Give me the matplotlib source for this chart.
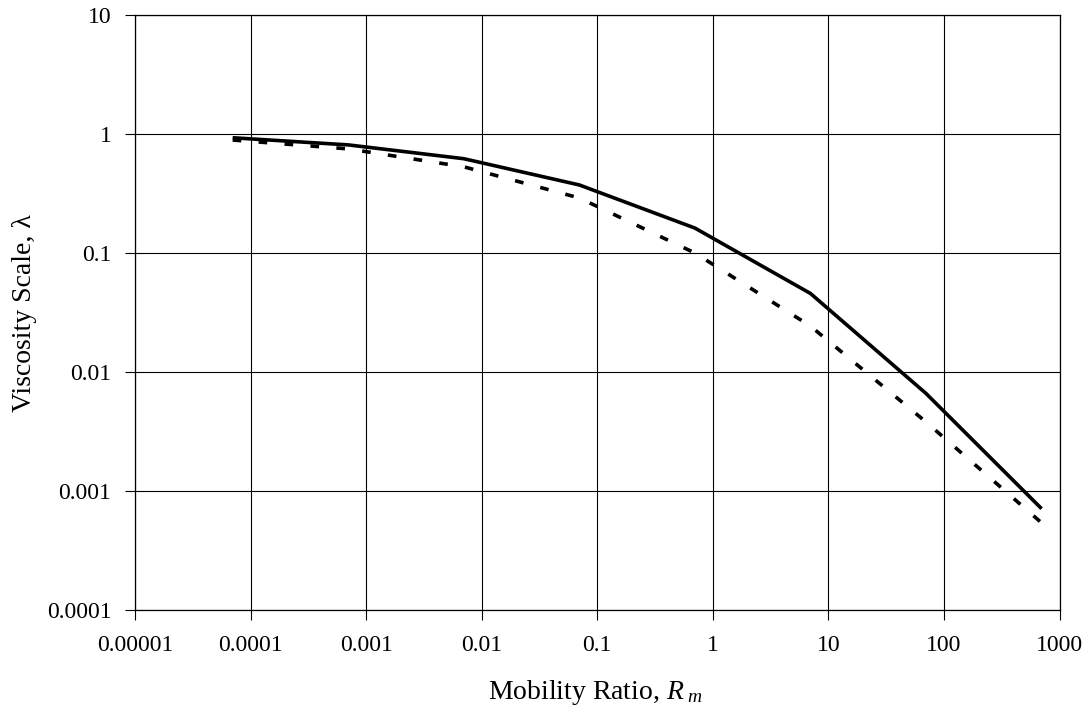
import matplotlib
matplotlib.use("Agg")
import matplotlib.pyplot as plt

# Data
mobility_ratio = [7e-5, 7e-4, 7e-3, 7e-2, 0.7, 7, 70, 700]
lambda_solid = [0.93, 0.81, 0.62, 0.373, 0.162, 0.0457, 0.0066, 0.00071]
lambda_dashed = [0.89, 0.75, 0.53, 0.29, 0.10, 0.0243, 0.0038, 0.00054]

x_ticks = [1e-5, 1e-4, 1e-3, 1e-2, 1e-1, 1, 10, 100, 1000]
x_tick_labels = ["0.00001", "0.0001", "0.001", "0.01", "0.1", "1", "10", "100", "1000"]
y_ticks = [1e-4, 1e-3, 1e-2, 1e-1, 1, 10]
y_tick_labels = ["0.0001", "0.001", "0.01", "0.1", "1", "10"]

plt.rcParams['font.family'] = ['Liberation Serif', 'DejaVu Serif']
plt.rcParams['mathtext.fontset'] = 'custom'
plt.rcParams['mathtext.rm'] = 'Liberation Serif'
plt.rcParams['mathtext.it'] = 'Liberation Serif:italic'

W, H = 1088, 711
fig = plt.figure(figsize=(W / 100, H / 100), dpi=100)
ax = fig.add_axes([135 / W, 1 - 610 / H, (1059.5 - 135) / W, (610 - 15) / H])

ax.plot(mobility_ratio, lambda_solid, color='black', lw=2.6, solid_capstyle='butt')
ax.plot(mobility_ratio, lambda_dashed, color='black', lw=2.6, dashes=(2.4, 4.8))

ax.set_xscale('log')
ax.set_yscale('log')
ax.set_xlim(1e-5, 1000)
ax.set_ylim(1e-4, 10)
ax.set_xticks(x_ticks)
ax.set_xticklabels(x_tick_labels)
ax.set_yticks(y_ticks)
ax.set_yticklabels(y_tick_labels)
ax.minorticks_off()
ax.tick_params(axis='both', direction='out', length=7, width=0.8, labelsize=17, color='black')
ax.tick_params(axis='x', pad=11)
ax.tick_params(axis='y', pad=10)

ax.grid(True, which='major', color='black', lw=0.8)
for s in ax.spines.values():
    s.set_color('black')
    s.set_linewidth(0.9)

fig.text(595 / W, 1 - 699 / H, r'Mobility Ratio, $R_{\ m}$', fontsize=20,
         ha='center', va='baseline')
fig.text(25 / W, 1 - 313 / H, 'Viscosity Scale, λ', fontsize=20,
         ha='center', va='center', rotation=90)

fig.savefig('out.png', dpi=100)
